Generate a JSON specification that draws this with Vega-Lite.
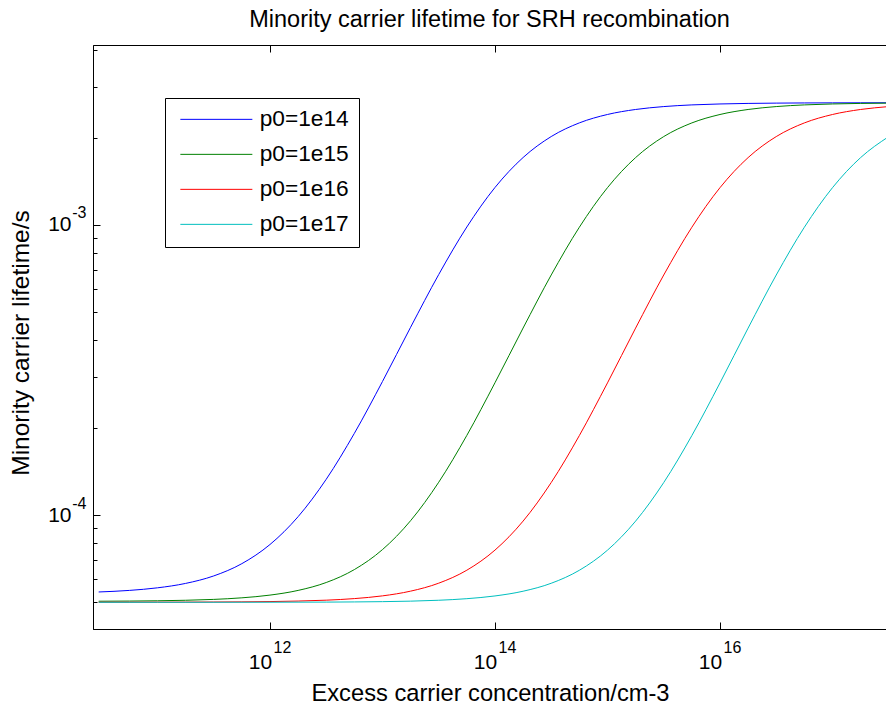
{
  "$schema": "https://vega.github.io/schema/vega-lite/v6.json",
  "width": 793,
  "height": 584,
  "autosize": {"type": "none"},
  "padding": {"left": 93, "top": 45, "right": 0, "bottom": 77},
  "background": "white",
  "config": {
    "font": "Liberation Sans",
    "view": {"stroke": "black", "strokeWidth": 1},
    "axis": {"grid": false, "domainColor": "black", "tickColor": "black", "labelColor": "black", "titleColor": "black", "labelFont": "Liberation Sans", "titleFont": "Liberation Sans", "titleFontWeight": "normal"}
  },
  "title": {"text": "Minority carrier lifetime for SRH recombination", "fontSize": 23.5, "fontWeight": "normal", "font": "Liberation Sans", "color": "black", "baseline": "alphabetic", "offset": -6, "anchor": "middle"},
  "data": {"values": [
    {"n": 3e10, "tau": 5.427e-5, "s": "p0=1e14"},
    {"n": 5.623e10, "tau": 5.495e-5, "s": "p0=1e14"},
    {"n": 1e11, "tau": 5.609e-5, "s": "p0=1e14"},
    {"n": 1.778e11, "tau": 5.809e-5, "s": "p0=1e14"},
    {"n": 3.162e11, "tau": 6.165e-5, "s": "p0=1e14"},
    {"n": 5.623e11, "tau": 6.796e-5, "s": "p0=1e14"},
    {"n": 1e12, "tau": 7.911e-5, "s": "p0=1e14"},
    {"n": 1.778e12, "tau": 9.868e-5, "s": "p0=1e14"},
    {"n": 3.162e12, "tau": 1.328e-4, "s": "p0=1e14"},
    {"n": 5.623e12, "tau": 1.912e-4, "s": "p0=1e14"},
    {"n": 1e13, "tau": 2.886e-4, "s": "p0=1e14"},
    {"n": 1.778e13, "tau": 4.44e-4, "s": "p0=1e14"},
    {"n": 3.162e13, "tau": 6.749e-4, "s": "p0=1e14"},
    {"n": 5.623e13, "tau": 9.844e-4, "s": "p0=1e14"},
    {"n": 1e14, "tau": 1.3468e-3, "s": "p0=1e14"},
    {"n": 1.778e14, "tau": 1.7089e-3, "s": "p0=1e14"},
    {"n": 3.162e14, "tau": 2.0185e-3, "s": "p0=1e14"},
    {"n": 5.623e14, "tau": 2.2495e-3, "s": "p0=1e14"},
    {"n": 1e15, "tau": 2.4049e-3, "s": "p0=1e14"},
    {"n": 1.778e15, "tau": 2.5023e-3, "s": "p0=1e14"},
    {"n": 3.162e15, "tau": 2.5607e-3, "s": "p0=1e14"},
    {"n": 5.623e15, "tau": 2.5948e-3, "s": "p0=1e14"},
    {"n": 1e16, "tau": 2.6144e-3, "s": "p0=1e14"},
    {"n": 1.778e16, "tau": 2.6255e-3, "s": "p0=1e14"},
    {"n": 3.162e16, "tau": 2.6318e-3, "s": "p0=1e14"},
    {"n": 5.623e16, "tau": 2.6354e-3, "s": "p0=1e14"},
    {"n": 1e17, "tau": 2.6374e-3, "s": "p0=1e14"},
    {"n": 1.778e17, "tau": 2.6386e-3, "s": "p0=1e14"},
    {"n": 3.162e17, "tau": 2.6392e-3, "s": "p0=1e14"},
    {"n": 3e10, "tau": 5.043e-5, "s": "p0=1e15"},
    {"n": 5.623e10, "tau": 5.05e-5, "s": "p0=1e15"},
    {"n": 1e11, "tau": 5.061e-5, "s": "p0=1e15"},
    {"n": 1.778e11, "tau": 5.081e-5, "s": "p0=1e15"},
    {"n": 3.162e11, "tau": 5.117e-5, "s": "p0=1e15"},
    {"n": 5.623e11, "tau": 5.181e-5, "s": "p0=1e15"},
    {"n": 1e12, "tau": 5.294e-5, "s": "p0=1e15"},
    {"n": 1.778e12, "tau": 5.495e-5, "s": "p0=1e15"},
    {"n": 3.162e12, "tau": 5.851e-5, "s": "p0=1e15"},
    {"n": 5.623e12, "tau": 6.483e-5, "s": "p0=1e15"},
    {"n": 1e13, "tau": 7.599e-5, "s": "p0=1e15"},
    {"n": 1.778e13, "tau": 9.559e-5, "s": "p0=1e15"},
    {"n": 3.162e13, "tau": 1.2973e-4, "s": "p0=1e15"},
    {"n": 5.623e13, "tau": 1.8822e-4, "s": "p0=1e15"},
    {"n": 1e14, "tau": 2.8577e-4, "s": "p0=1e15"},
    {"n": 1.778e14, "tau": 4.4128e-4, "s": "p0=1e15"},
    {"n": 3.162e14, "tau": 6.7253e-4, "s": "p0=1e15"},
    {"n": 5.623e14, "tau": 9.8248e-4, "s": "p0=1e15"},
    {"n": 1e15, "tau": 1.3452e-3, "s": "p0=1e15"},
    {"n": 1.778e15, "tau": 1.7078e-3, "s": "p0=1e15"},
    {"n": 3.162e15, "tau": 2.0178e-3, "s": "p0=1e15"},
    {"n": 5.623e15, "tau": 2.2489e-3, "s": "p0=1e15"},
    {"n": 1e16, "tau": 2.4046e-3, "s": "p0=1e15"},
    {"n": 1.778e16, "tau": 2.5021e-3, "s": "p0=1e15"},
    {"n": 3.162e16, "tau": 2.5606e-3, "s": "p0=1e15"},
    {"n": 5.623e16, "tau": 2.5948e-3, "s": "p0=1e15"},
    {"n": 1e17, "tau": 2.6144e-3, "s": "p0=1e15"},
    {"n": 1.778e17, "tau": 2.6255e-3, "s": "p0=1e15"},
    {"n": 3.162e17, "tau": 2.6318e-3, "s": "p0=1e15"},
    {"n": 3e10, "tau": 5.004e-5, "s": "p0=1e16"},
    {"n": 5.623e10, "tau": 5.005e-5, "s": "p0=1e16"},
    {"n": 1e11, "tau": 5.006e-5, "s": "p0=1e16"},
    {"n": 1.778e11, "tau": 5.008e-5, "s": "p0=1e16"},
    {"n": 3.162e11, "tau": 5.012e-5, "s": "p0=1e16"},
    {"n": 5.623e11, "tau": 5.018e-5, "s": "p0=1e16"},
    {"n": 1e12, "tau": 5.029e-5, "s": "p0=1e16"},
    {"n": 1.778e12, "tau": 5.05e-5, "s": "p0=1e16"},
    {"n": 3.162e12, "tau": 5.085e-5, "s": "p0=1e16"},
    {"n": 5.623e12, "tau": 5.149e-5, "s": "p0=1e16"},
    {"n": 1e13, "tau": 5.262e-5, "s": "p0=1e16"},
    {"n": 1.778e13, "tau": 5.463e-5, "s": "p0=1e16"},
    {"n": 3.162e13, "tau": 5.82e-5, "s": "p0=1e16"},
    {"n": 5.623e13, "tau": 6.452e-5, "s": "p0=1e16"},
    {"n": 1e14, "tau": 7.568e-5, "s": "p0=1e16"},
    {"n": 1.778e14, "tau": 9.528e-5, "s": "p0=1e16"},
    {"n": 3.162e14, "tau": 1.2943e-4, "s": "p0=1e16"},
    {"n": 5.623e14, "tau": 1.8792e-4, "s": "p0=1e16"},
    {"n": 1e15, "tau": 2.8549e-4, "s": "p0=1e16"},
    {"n": 1.778e15, "tau": 4.4101e-4, "s": "p0=1e16"},
    {"n": 3.162e15, "tau": 6.7224e-4, "s": "p0=1e16"},
    {"n": 5.623e15, "tau": 9.8219e-4, "s": "p0=1e16"},
    {"n": 1e16, "tau": 1.345e-3, "s": "p0=1e16"},
    {"n": 1.778e16, "tau": 1.7077e-3, "s": "p0=1e16"},
    {"n": 3.162e16, "tau": 2.0177e-3, "s": "p0=1e16"},
    {"n": 5.623e16, "tau": 2.2489e-3, "s": "p0=1e16"},
    {"n": 1e17, "tau": 2.4045e-3, "s": "p0=1e16"},
    {"n": 1.778e17, "tau": 2.5021e-3, "s": "p0=1e16"},
    {"n": 3.162e17, "tau": 2.5606e-3, "s": "p0=1e16"},
    {"n": 3e10, "tau": 5.0001e-5, "s": "p0=1e17"},
    {"n": 1e11, "tau": 5.0003e-5, "s": "p0=1e17"},
    {"n": 1e12, "tau": 5.003e-5, "s": "p0=1e17"},
    {"n": 3.162e12, "tau": 5.008e-5, "s": "p0=1e17"},
    {"n": 5.623e12, "tau": 5.015e-5, "s": "p0=1e17"},
    {"n": 1e13, "tau": 5.026e-5, "s": "p0=1e17"},
    {"n": 1.778e13, "tau": 5.046e-5, "s": "p0=1e17"},
    {"n": 3.162e13, "tau": 5.082e-5, "s": "p0=1e17"},
    {"n": 5.623e13, "tau": 5.146e-5, "s": "p0=1e17"},
    {"n": 1e14, "tau": 5.259e-5, "s": "p0=1e17"},
    {"n": 1.778e14, "tau": 5.46e-5, "s": "p0=1e17"},
    {"n": 3.162e14, "tau": 5.816e-5, "s": "p0=1e17"},
    {"n": 5.623e14, "tau": 6.448e-5, "s": "p0=1e17"},
    {"n": 1e15, "tau": 7.564e-5, "s": "p0=1e17"},
    {"n": 1.778e15, "tau": 9.525e-5, "s": "p0=1e17"},
    {"n": 3.162e15, "tau": 1.2939e-4, "s": "p0=1e17"},
    {"n": 5.623e15, "tau": 1.8788e-4, "s": "p0=1e17"},
    {"n": 1e16, "tau": 2.8545e-4, "s": "p0=1e17"},
    {"n": 1.778e16, "tau": 4.4098e-4, "s": "p0=1e17"},
    {"n": 3.162e16, "tau": 6.7222e-4, "s": "p0=1e17"},
    {"n": 5.623e16, "tau": 9.8219e-4, "s": "p0=1e17"},
    {"n": 1e17, "tau": 1.345e-3, "s": "p0=1e17"},
    {"n": 1.778e17, "tau": 1.7077e-3, "s": "p0=1e17"},
    {"n": 3.162e17, "tau": 2.0177e-3, "s": "p0=1e17"}
  ]},
  "resolve": {"scale": {"x": "independent", "y": "independent"}, "axis": {"x": "independent", "y": "independent"}},
  "layer": [
    {
      "mark": {"type": "line", "strokeWidth": 1, "clip": true, "interpolate": "monotone"},
      "encoding": {
        "x": {"field": "n", "type": "quantitative", "scale": {"type": "log", "domain": [2.672e10, 2.99e17], "nice": false, "zero": false},
          "axis": {"orient": "bottom", "values": [1e12, 1e14, 1e16], "labelExpr": "'10'", "labelFontSize": 21, "labelOffset": -10, "labelPadding": 29, "labelBaseline": "top", "tickSize": -7, "domainWidth": 1,
            "title": "Excess carrier concentration/cm-3", "titleFontSize": 23.7, "titleX": 397, "titleY": 71, "titleBaseline": "alphabetic", "titleAlign": "center"}},
        "y": {"field": "tau", "type": "quantitative", "scale": {"type": "log", "domain": [4.045e-5, 4.175e-3], "nice": false, "zero": false},
          "axis": {"orient": "left", "values": [1e-4, 1e-3], "labelExpr": "'10'", "labelFontSize": 21, "labelAlign": "right", "labelBaseline": "middle", "labelPadding": 29, "tickSize": -7,
            "title": "Minority carrier lifetime/s", "titleFontSize": 24.5, "titleX": -65, "titleY": 297.5, "titleBaseline": "alphabetic", "titleAlign": "center", "titleAngle": -90}},
        "color": {"field": "s", "type": "nominal",
          "scale": {"domain": ["p0=1e14", "p0=1e15", "p0=1e16", "p0=1e17"], "range": ["#0000ff", "#008000", "#ff0000", "#00bfbf"]},
          "legend": {"orient": "none", "legendX": 72, "legendY": 53, "title": null, "padding": 10, "strokeColor": "black", "fillColor": "white", "cornerRadius": 0,
            "labelFontSize": 22.7, "labelFont": "Liberation Sans", "labelColor": "black", "rowPadding": 11, "symbolType": "M-1,0H11", "symbolSize": 144, "symbolStrokeWidth": 1, "symbolOffset": 0, "labelOffset": 62}}
      }
    },
    {
      "mark": {"type": "line", "strokeOpacity": 0, "clip": true},
      "encoding": {
        "x": {"field": "n", "type": "quantitative", "scale": {"type": "log", "domain": [2.672e10, 2.99e17], "nice": false, "zero": false},
          "axis": {"orient": "bottom", "values": [1e12, 1e14, 1e16], "labelExpr": "'' + round(log(datum.value)/LN10)", "labelFontSize": 16, "labelOffset": 12, "labelPadding": 10, "labelBaseline": "top", "ticks": false, "domain": false, "title": null}},
        "y": {"field": "tau", "type": "quantitative", "scale": {"type": "log", "domain": [4.045e-5, 4.175e-3], "nice": false, "zero": false},
          "axis": {"orient": "left", "values": [1e-4, 1e-3], "labelExpr": "'' + round(log(datum.value)/LN10)", "labelFontSize": 16, "labelAlign": "right", "labelBaseline": "middle", "labelOffset": -12, "labelPadding": 7, "ticks": false, "domain": false, "title": null}}
      }
    },
    {
      "mark": {"type": "line", "strokeOpacity": 0, "clip": true},
      "encoding": {
        "x": {"field": "n", "type": "quantitative", "scale": {"type": "log", "domain": [2.672e10, 2.99e17], "nice": false, "zero": false},
          "axis": {"orient": "top", "values": [1e12, 1e14, 1e16], "labels": false, "tickSize": -7, "domain": false, "title": null}},
        "y": {"field": "tau", "type": "quantitative", "scale": {"type": "log", "domain": [4.045e-5, 4.175e-3], "nice": false, "zero": false},
          "axis": {"orient": "left", "values": [5e-5, 6e-5, 7e-5, 8e-5, 9e-5, 2e-4, 3e-4, 4e-4, 5e-4, 6e-4, 7e-4, 8e-4, 9e-4, 2e-3, 3e-3, 4e-3], "labels": false, "tickSize": -4, "domain": false, "title": null}}
      }
    }
  ]
}
